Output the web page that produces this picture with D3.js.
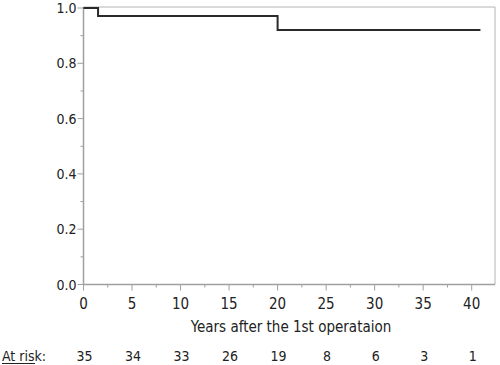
<!DOCTYPE html>
<html>
<head>
<meta charset="utf-8">
<script src="https://cdn.jsdelivr.net/npm/d3@7"></script>
<style>
  html, body { margin: 0; padding: 0; background: #fff; }
  svg { display: block; }
  text { font-family: "DejaVu Sans Condensed", "DejaVu Sans", sans-serif; font-stretch: condensed; fill: #222; }
</style>
</head>
<body>
<svg id="chart" width="500" height="365"></svg>
<script>
// Kaplan–Meier step data (time in years, survival probability)
const stepTimes = [0, 1.5, 20];
const survival = [1.0, 0.971, 0.92];
const lastFollowUp = 40.9;

const xMajorTicks = [0, 5, 10, 15, 20, 25, 30, 35, 40];
const xMinorTicks = [2.5, 7.5, 12.5, 17.5, 22.5, 27.5, 32.5, 37.5];
const yMajorTicks = [0, 0.2, 0.4, 0.6, 0.8, 1.0];
const yMinorTicks = [0.1, 0.3, 0.5, 0.7, 0.9];

const riskTimes = [0, 5, 10, 15, 20, 25, 30, 35, 40];
const atRisk = [35, 34, 33, 26, 19, 8, 6, 3, 1];

const xTitle = "Years after the 1st operataion";

const svg = d3.select("#chart");
const left = 83.5, right = 495, bottom = 284.5, yTop = 7;

const x = d3.scaleLinear().domain([0, 42.4]).range([left, right]);
const y = d3.scaleLinear().domain([0, 1]).range([bottom, 8]);

// frame (top & right)
svg.append("path")
  .attr("d", `M${left},${yTop}H${right}V${bottom}`)
  .attr("fill", "none").attr("stroke", "#b4b4b4").attr("stroke-width", 1);

// Y axis
const yAxis = svg.append("g").attr("transform", `translate(${left},0)`);
yAxis.append("line").attr("x1", 0).attr("x2", 0).attr("y1", yTop).attr("y2", bottom)
  .attr("stroke", "#a0a0a0").attr("stroke-width", 1.5);
yAxis.selectAll("line.maj").data(yMajorTicks).join("line").attr("class", "maj")
  .attr("x1", -6).attr("x2", 0).attr("y1", d => y(d)).attr("y2", d => y(d))
  .attr("stroke", "#a0a0a0");
yAxis.selectAll("line.min").data(yMinorTicks).join("line").attr("class", "min")
  .attr("x1", -3).attr("x2", 0).attr("y1", d => y(d)).attr("y2", d => y(d))
  .attr("stroke", "#a0a0a0");
yAxis.selectAll("text").data(yMajorTicks).join("text")
  .attr("x", -7).attr("y", d => y(d)).attr("dy", "0.37em")
  .attr("text-anchor", "end").style("font-size", "14px")
  .text(d => d3.format(".1f")(d));

// X axis
const xAxis = svg.append("g").attr("transform", `translate(0,${bottom})`);
xAxis.append("line").attr("x1", left).attr("x2", right).attr("y1", 0).attr("y2", 0)
  .attr("stroke", "#a0a0a0").attr("stroke-width", 1.5);
xAxis.selectAll("line.maj").data(xMajorTicks).join("line").attr("class", "maj")
  .attr("x1", d => x(d)).attr("x2", d => x(d)).attr("y1", 0).attr("y2", 6)
  .attr("stroke", "#a0a0a0");
xAxis.selectAll("line.min").data(xMinorTicks).join("line").attr("class", "min")
  .attr("x1", d => x(d)).attr("x2", d => x(d)).attr("y1", 0).attr("y2", 3)
  .attr("stroke", "#a0a0a0");
xAxis.selectAll("text").data(xMajorTicks).join("text")
  .attr("x", d => x(d)).attr("y", 24.5)
  .attr("text-anchor", "middle").style("font-size", "15px")
  .text(d => d);

svg.append("text").attr("x", 291).attr("y", 331.5)
  .attr("text-anchor", "middle").style("font-size", "15px")
  .text(xTitle);

// KM curve
const pts = stepTimes.map((t, i) => [t, survival[i]]);
pts.push([lastFollowUp, survival[survival.length - 1]]);
const line = d3.line().x(d => x(d[0])).y(d => y(d[1])).curve(d3.curveStepAfter);
svg.append("path").attr("d", line(pts))
  .attr("fill", "none").attr("stroke", "#2a2a2a").attr("stroke-width", 2);

// At-risk table
const riskY = 361;
svg.append("text").attr("x", 2).attr("y", riskY).style("font-size", "14px")
  .text("At risk:");
svg.append("line").attr("x1", 2).attr("x2", 35).attr("y1", riskY + 2.5).attr("y2", riskY + 2.5)
  .attr("stroke", "#222").attr("stroke-width", 1);
svg.selectAll("text.risk").data(riskTimes).join("text").attr("class", "risk")
  .attr("x", d => x(d) + 1).attr("y", riskY)
  .attr("text-anchor", "middle").style("font-size", "14px")
  .text((d, i) => atRisk[i]);
</script>
</body>
</html>
